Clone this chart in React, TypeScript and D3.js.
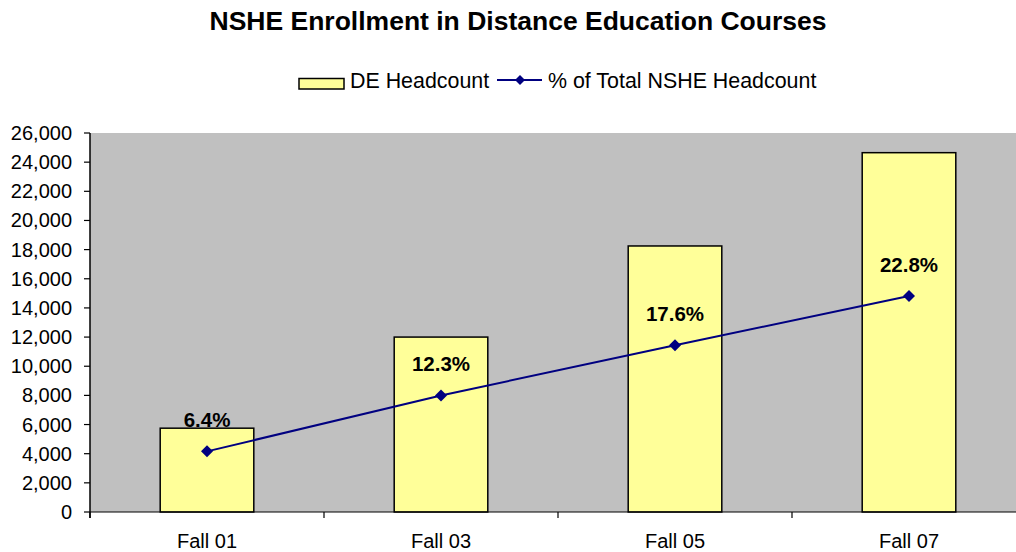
import React from "react";
import * as d3 from "d3";

const categories = ["Fall 01", "Fall 03", "Fall 05", "Fall 07"];
const deHeadcount = [5750, 12000, 18250, 24650];
const pctTotal = [6.4, 12.3, 17.6, 22.8];
const yTicks = [0, 2000, 4000, 6000, 8000, 10000, 12000, 14000, 16000, 18000, 20000, 22000, 24000, 26000];

const W = 1016;
const H = 552;
const plot = { left: 90, right: 1026, top: 133, bottom: 512 };

export default function App() {
  const x = d3.scaleBand<string>().domain(categories).range([plot.left, plot.right]).padding(0);
  const y = d3.scaleLinear().domain([0, 26000]).range([plot.bottom, plot.top]);
  const y2 = d3.scaleLinear().domain([0, 40]).range([plot.bottom, plot.top]);
  const fmt = d3.format(",");
  const barW = x.bandwidth() * 0.4;
  const cx = (c: string) => (x(c) as number) + x.bandwidth() / 2;
  const line = d3
    .line<number>()
    .x((_, i) => cx(categories[i]))
    .y((d) => y2(d));
  const font = "'Liberation Sans', Arial, sans-serif";
  const diamond = (px: number, py: number, r: number) =>
    `M${px},${py - r}L${px + r},${py}L${px},${py + r}L${px - r},${py}Z`;

  return (
    <svg width={W} height={H} style={{ position: "absolute", left: 0, top: 0 }} fontFamily={font}>
      <rect x={0} y={0} width={W} height={H} fill="#fff" />
      <text x={518} y={30} textAnchor="middle" fontSize={26.5} fontWeight="bold">
        NSHE Enrollment in Distance Education Courses
      </text>
      {/* legend */}
      <rect x={299} y={78.5} width={45} height={10.5} fill="#FFFF99" stroke="#000" strokeWidth={1.5} />
      <text x={350} y={88} fontSize={21.4}>DE Headcount</text>
      <line x1={497} x2={542} y1={80} y2={80} stroke="#000080" strokeWidth={2} />
      <path d={diamond(520, 80, 5)} fill="#000080" />
      <text x={548} y={88} fontSize={21.4}>% of Total NSHE Headcount</text>

      {/* plot area */}
      <rect x={plot.left} y={plot.top} width={plot.right - plot.left} height={plot.bottom - plot.top} fill="#C0C0C0" />

      {/* bars */}
      {categories.map((c, i) => (
        <rect
          key={c}
          x={cx(c) - barW / 2}
          y={y(deHeadcount[i])}
          width={barW}
          height={y(0) - y(deHeadcount[i])}
          fill="#FFFF99"
          stroke="#000"
          strokeWidth={1.5}
        />
      ))}

      {/* y axis */}
      <line x1={plot.left} x2={plot.left} y1={plot.top} y2={plot.bottom + 6} stroke="#000" strokeWidth={1.5} />
      {yTicks.map((t) => (
        <g key={t}>
          <line x1={plot.left - 6} x2={plot.left} y1={y(t)} y2={y(t)} stroke="#000" strokeWidth={1.2} />
          <text x={72} y={y(t)} dy="0.35em" textAnchor="end" fontSize={20}>
            {fmt(t)}
          </text>
        </g>
      ))}

      {/* x axis */}
      <line x1={plot.left} x2={plot.right} y1={plot.bottom} y2={plot.bottom} stroke="#000" strokeWidth={1.2} />
      {categories.map((c) => (
        <g key={c}>
          <line x1={x(c) as number} x2={x(c) as number} y1={plot.bottom} y2={plot.bottom + 6} stroke="#000" strokeWidth={1.2} />
          <text x={cx(c)} y={548} textAnchor="middle" fontSize={20}>
            {c}
          </text>
        </g>
      ))}
      <line x1={plot.right} x2={plot.right} y1={plot.bottom} y2={plot.bottom + 6} stroke="#000" strokeWidth={1.2} />

      {/* line series */}
      <path d={line(pctTotal) || ""} fill="none" stroke="#000080" strokeWidth={2} />
      {pctTotal.map((v, i) => (
        <g key={i}>
          <path d={diamond(cx(categories[i]), y2(v), 6)} fill="#000080" />
          <text x={cx(categories[i])} y={y2(v) - 24} textAnchor="middle" fontSize={20.5} fontWeight="bold">
            {v.toFixed(1)}%
          </text>
        </g>
      ))}
    </svg>
  );
}
